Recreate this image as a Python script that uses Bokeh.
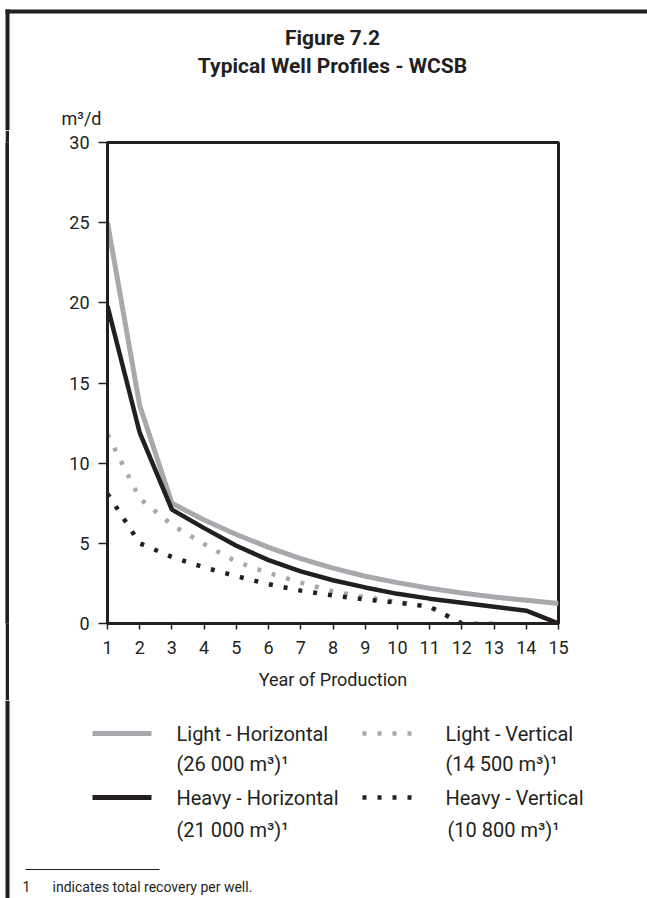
from bokeh.plotting import figure
from bokeh.models import Range1d, FixedTicker, Spacer
from bokeh.layouts import column, row
from bokeh.embed import file_html
from bokeh.resources import INLINE
from bokeh.core.properties import value

# ---------------- data ----------------
years = list(range(1, 16))
light_horizontal = [25.0, 13.6, 7.5, 6.45, 5.55, 4.75, 4.05, 3.45, 2.95, 2.55, 2.2, 1.9, 1.65, 1.45, 1.25]
heavy_horizontal = [19.8, 11.9, 7.1, 5.95, 4.85, 3.95, 3.25, 2.7, 2.25, 1.85, 1.55, 1.3, 1.05, 0.8, 0.0]
years_light_vertical = list(range(1, 14))
light_vertical = [11.8, 7.8, 6.15, 4.95, 3.85, 3.15, 2.55, 2.0, 1.65, 1.35, 1.05, 0.0, 0.0]
years_heavy_vertical = list(range(1, 13))
heavy_vertical = [8.1, 5.0, 4.15, 3.5, 2.95, 2.45, 2.05, 1.75, 1.5, 1.3, 1.05, 0.0]

y_ticks = [0, 5, 10, 15, 20, 25, 30]
x_ticks = years

title_lines = ["Figure 7.2", "Typical Well Profiles - WCSB"]
y_unit = "m\u00b3/d"
x_title = "Year of Production"
legend_names = ["Light - Horizontal", "Light - Vertical", "Heavy - Horizontal", "Heavy - Vertical"]
legend_totals = ["(26 000 m\u00b3)\u00b9", "(14 500 m\u00b3)\u00b9", "(21 000 m\u00b3)\u00b9", "(10 800 m\u00b3)\u00b9"]
footnote = ["1", "indicates total recovery per well."]

FONT = "Roboto"
DARK = "#231f20"
GRAY = "#a7a9ac"
DOT = "4 11"


def canvas(w, h, x0, y0, fill="white"):
    p = figure(width=w, height=h, x_range=Range1d(x0, x0 + w), y_range=Range1d(y0 + h, y0),
               x_axis_type=None, y_axis_type=None, toolbar_location=None,
               output_backend="svg", min_border=0, title=None)
    p.outline_line_color = None
    p.background_fill_color = fill
    p.border_fill_color = fill
    return p


def txt(p, x, y, s, size, align="left", bold=False):
    p.text(x=[x], y=[y], text=[s], text_font=value(FONT), text_font_size=size,
           text_font_style="bold" if bold else "normal", text_align=align,
           text_baseline="middle", text_color=DARK)


# ---------------- header (page y 0..130) ----------------
head = canvas(647, 130, 0, 0)
head.quad(left=[5], right=[647], top=[9], bottom=[13], color=DARK, line_color=None)
head.quad(left=[5], right=[9], top=[9], bottom=[130], color=DARK, line_color=None)
txt(head, 332, 37, title_lines[0], "21px", "center", True)
txt(head, 332, 65, title_lines[1], "21px", "center", True)
txt(head, 61, 118, y_unit, "18px")

# ---------------- left gap + dark border strip (page y 130..700) ----------------
gap = Spacer(width=5, height=570, margin=0)
bar = canvas(4, 570, 5, 130, DARK)
bar.min_border_top = 12
bar.min_border_bottom = 77
bar.quad(left=[5], right=[9], top=[130], bottom=[700], color=DARK, line_color=None)

# ---------------- main chart ----------------
p = figure(width=638, height=570, x_range=Range1d(1, 15), y_range=Range1d(0, 30),
           toolbar_location=None, output_backend="svg", title=None,
           min_border_left=98, min_border_right=89, min_border_top=12, min_border_bottom=77)
p.background_fill_color = "white"
p.border_fill_color = "white"
p.outline_line_color = DARK
p.outline_line_width = 3
p.grid.visible = False

p.xaxis.ticker = FixedTicker(ticks=x_ticks)
p.yaxis.ticker = FixedTicker(ticks=y_ticks)
for ax in (p.xaxis, p.yaxis):
    ax.axis_line_color = DARK
    ax.axis_line_width = 3
    ax.major_tick_line_color = DARK
    ax.major_tick_line_width = 1.5
    ax.major_tick_in = 0
    ax.minor_tick_line_color = None
    ax.major_label_text_font = FONT
    ax.major_label_text_font_size = "18px"
    ax.major_label_text_color = DARK
p.yaxis.major_tick_out = 9
p.yaxis.major_label_standoff = 9
p.xaxis.major_tick_out = 6
p.xaxis.major_label_standoff = 11
p.xaxis.axis_label = x_title
p.xaxis.axis_label_text_font = FONT
p.xaxis.axis_label_text_font_size = "18px"
p.xaxis.axis_label_text_font_style = "normal"
p.xaxis.axis_label_text_color = DARK
p.xaxis.axis_label_standoff = 12

p.line(years, light_horizontal, line_color=GRAY, line_width=5)
p.line(years_light_vertical, light_vertical, line_color=GRAY, line_width=4.5, line_dash=DOT)
p.line(years, heavy_horizontal, line_color=DARK, line_width=4.5)
p.line(years_heavy_vertical, heavy_vertical, line_color=DARK, line_width=4.5, line_dash=DOT)

# ---------------- footer: legend + footnote (page y 700..898) ----------------
foot = canvas(647, 198, 0, 700)
foot.quad(left=[5], right=[9], top=[700], bottom=[898], color=DARK, line_color=None)

foot.line([92, 151], [733, 733], line_color=GRAY, line_width=5)
foot.line([362, 412], [733, 733], line_color=GRAY, line_width=4.5, line_dash=DOT)
foot.line([92, 151], [797, 797], line_color=DARK, line_width=5)
foot.line([362, 412], [797, 797], line_color=DARK, line_width=4.5, line_dash=DOT)

txt(foot, 176, 733, legend_names[0], "20px")
txt(foot, 176, 763, legend_totals[0], "20px")
txt(foot, 445, 733, legend_names[1], "20px")
txt(foot, 445, 763, legend_totals[1], "20px")
txt(foot, 176, 797, legend_names[2], "20px")
txt(foot, 176, 829, legend_totals[2], "20px")
txt(foot, 445, 797, legend_names[3], "20px")
txt(foot, 447, 829, legend_totals[3], "20px")

foot.line([25, 159], [869, 869], line_color=DARK, line_width=1)
txt(foot, 22, 886, footnote[0], "14px")
txt(foot, 52, 886, footnote[1], "14px")

layout = column(head, row(gap, bar, p), foot)
open("out.html", "w").write(file_html(layout, INLINE))
